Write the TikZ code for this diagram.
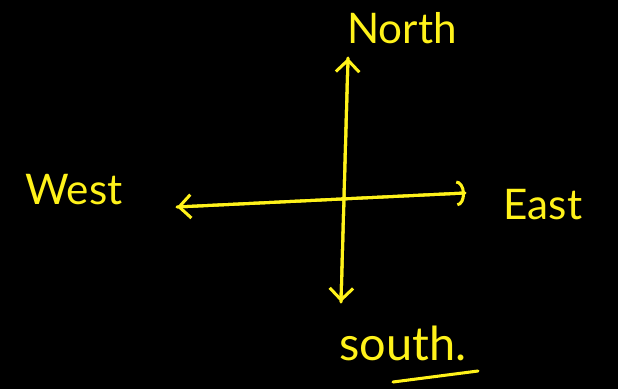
\documentclass[tikz,border=0pt]{standalone}
\usepackage{fontspec}
\setmainfont{Lato}
\usetikzlibrary{arrows.meta}
\definecolor{hand}{HTML}{FFF21A}
\tikzset{
  pen/.style={draw=hand, line width=2.6pt, line cap=round, line join=round},
  lbl/.style={text=hand, font=\fontsize{36}{40}\selectfont, inner sep=0pt},
  barb/.style={-{Straight Barb[length=10pt,width=20pt,line width=2.6pt]}},
  arcbarb/.style={-{Arc Barb[length=7pt,width=22pt,line width=2.6pt]}}
}
\begin{document}
\begin{tikzpicture}[x=0.03cm,y=-0.03cm]
\fill[black] (0,0) rectangle (618,389);
\useasboundingbox (0,0) rectangle (618,389);
\coordinate (n) at (348,58);
\coordinate (s) at (341,302);
\coordinate (w) at (177,207);
\coordinate (e) at (465,193);
\coordinate (ul1) at (393,382);
\coordinate (ul2) at (478,371);
\node[lbl] (north) at (402,28) {North};
\node[lbl] (west) at (74,190) {West};
\node[lbl] (east) at (543,205) {East};
\node[lbl, font=\fontsize{40}{44}\selectfont] (south) at (403,343) {south.};
\draw[pen,barb] (s) -- (n);
\draw[pen,barb] (n) -- (s);
\draw[pen,barb] (e) -- (w);
\draw[pen,arcbarb] (w) -- (e);
\draw[pen] (ul1) -- (ul2);
\end{tikzpicture}
\end{document}
